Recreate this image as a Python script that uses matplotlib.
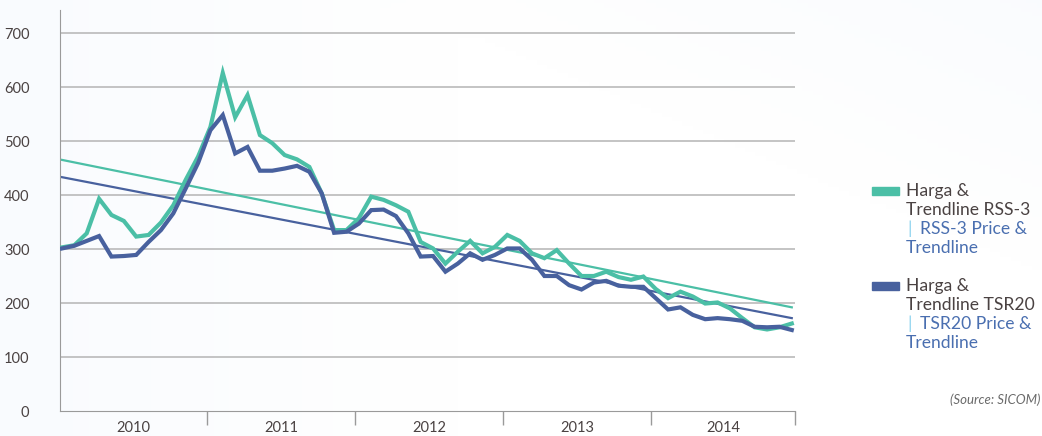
import numpy as np
import matplotlib
matplotlib.use("Agg")
import matplotlib.pyplot as plt
from matplotlib.patches import Rectangle

plt.rcParams['font.family'] = ['Lato', 'DejaVu Sans']

# Harga bulanan (USD sen/kg), Jan 2010 - Des 2014
years = ["2010", "2011", "2012", "2013", "2014"]
rss3 = [303, 307, 329, 393, 363, 352, 323, 326, 349, 381, 428, 471,
        526, 626, 544, 585, 511, 496, 474, 466, 452, 403, 335, 335,
        357, 397, 391, 381, 369, 313, 301, 273, 295, 315, 292, 304,
        326, 315, 292, 283, 298, 273, 250, 250, 258, 248, 243, 249,
        226, 209, 221, 212, 199, 201, 190, 172, 155, 151, 155, 162]
tsr20 = [301, 306, 315, 324, 286, 287, 289, 313, 335, 366, 412, 459,
         520, 548, 477, 489, 445, 445, 449, 454, 443, 403, 330, 332,
         347, 372, 373, 361, 329, 286, 287, 258, 273, 292, 280, 289,
         301, 301, 280, 250, 250, 233, 225, 238, 241, 232, 230, 230,
         209, 188, 192, 178, 170, 172, 170, 167, 156, 155, 156, 150]
# titik ujung garis tren
rss3_trend = [465, 192]
tsr20_trend = [433, 172]

teal = "#4bbfa6"
navy = "#48619e"
txt = "#4a4242"

fig = plt.figure(figsize=(10.42, 4.36), dpi=100)

# latar belakang bergradasi tipis
bg = fig.add_axes([0, 0, 1, 1], zorder=-5)
gx, gy = np.meshgrid(np.linspace(0, 1, 200), np.linspace(0, 1, 100))
a = 0.12 * np.clip(1 - gx * 2.2, 0, 1) + 0.08 * np.clip((gx - gy) - 0.35, 0, 1) * 2
img = np.zeros((100, 200, 4))
img[..., 0] = 0.80
img[..., 1] = 0.88
img[..., 2] = 0.97
img[..., 3] = np.clip(a, 0, 0.35)
bg.imshow(img, extent=[0, 1, 0, 1], aspect="auto", origin="upper")
bg.axis("off")

ax = fig.add_axes([60 / 1042, 1 - 411 / 436, 735 / 1042, 401 / 436])
ax.set_facecolor("none")

x = np.arange(len(rss3))
ax.plot(x, rss3, color=teal, lw=3.0, solid_joinstyle="miter", zorder=3)
ax.plot(x, tsr20, color=navy, lw=3.0, solid_joinstyle="miter", zorder=3)
ax.plot([x[0], x[-1]], rss3_trend, color=teal, lw=1.6, zorder=2)
ax.plot([x[0], x[-1]], tsr20_trend, color=navy, lw=1.6, zorder=2)

ax.set_xlim(-0.16, 59.26)
ax.set_ylim(0, 742.6)
ax.set_yticks(range(0, 800, 100))
ax.tick_params(axis="y", length=0, pad=22, labelsize=10.5, labelcolor=txt)
for v in range(100, 800, 100):
    ax.axhline(v, color="#b4b4b4", lw=1.1, zorder=1)

bounds = [-0.16, 11.7, 23.7, 35.65, 47.6, 59.26]
ax.set_xticks(bounds[1:])
ax.set_xticklabels([])
ax.tick_params(axis="x", length=10, width=1, color="#9a9a9a")
mids = [(bounds[i] + bounds[i + 1]) / 2 for i in range(len(years))]
ax.set_xticks(mids, minor=True)
ax.set_xticklabels(years, minor=True)
ax.tick_params(axis="x", which="minor", length=0, pad=7, labelsize=10.5, labelcolor=txt)

for s in ["top", "right"]:
    ax.spines[s].set_visible(False)
ax.spines["left"].set_color("#9a9a9a")
ax.spines["bottom"].set_color("#9a9a9a")

# legenda manual
def fx(px):
    return px / 1042

def fy(py):
    return 1 - py / 436

def entry(py, color, name):
    fig.patches.append(Rectangle((fx(872), fy(py + 4)), 27 / 1042, 8 / 436,
                                 transform=fig.transFigure, color=color))
    fig.text(fx(906), fy(py), "Harga &", color=txt, fontsize=12.6, va="center")
    fig.text(fx(906), fy(py + 19), "Trendline " + name, color=txt, fontsize=12.6, va="center")
    fig.text(fx(907), fy(py + 38), "|", color="#8fd3ee", fontsize=12.6, va="center")
    fig.text(fx(920), fy(py + 38), name + " Price &", color="#4a6fb0", fontsize=12.6, va="center")
    fig.text(fx(906), fy(py + 57), "Trendline", color="#4a6fb0", fontsize=12.6, va="center")

entry(191, teal, "RSS-3")
entry(286, navy, "TSR20")

fig.text(fx(1040), fy(400), "(Source: SICOM)", color="#6a6a6a", fontsize=9.5,
         style="italic", ha="right", va="center")

fig.savefig("out.png", dpi=100)
